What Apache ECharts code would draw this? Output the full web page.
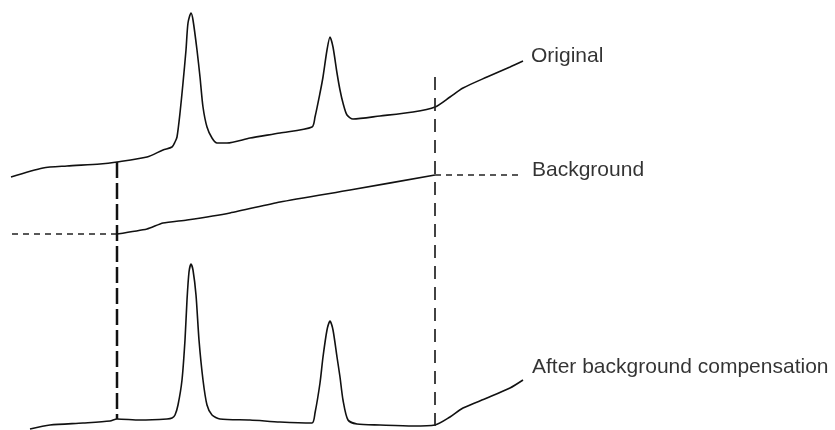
<!DOCTYPE html>
<html>
<head>
<meta charset="utf-8">
<script src="https://cdn.jsdelivr.net/npm/echarts@6/dist/echarts.min.js"></script>
<style>html,body{margin:0;padding:0;background:#fff;}#chart{width:835px;height:430px;}</style>
</head>
<body>
<div id="chart"></div>
<script>
// Original signal
var origX = [11,43,67,100,117,147,163,172,175,177,180,183,186,188,191,193,197,200,203,207,212,217,227,250,280,312,315,320,323,327,330,333,337,340,343,347,353,380,413,435,450,463,487,510,523];
var origY = [253,262,264,266,268,273,280,283,288,293,317,347,380,407,417,410,380,353,323,303,292,287,287,292,297,303,313,337,353,380,393,383,357,340,327,315,311,314,318,323,333,342,353,363,369];
// Estimated background
var bgX = [117,147,163,187,230,280,350,435];
var bgY = [196,201,207,210,217,228,240,255];
// After background compensation
var corrX = [30,50,83,110,117,140,167,172,175,178,182,185,187,189,191,193,196,199,203,207,212,220,250,280,312,315,320,323,327,330,333,337,340,343,348,357,380,413,435,450,463,487,510,523];
var corrY = [1,5,7,9,11,10,11,12,15,25,50,90,130,158,166,160,135,90,50,25,15,11,10,8,7,17,47,73,100,109,100,73,53,30,10,6,5,4,5,13,22,32,42,50];
// Region markers (start / end of peak window)
var markerX = [117, 435];
var markerTop = [268, 353];
var markerBottom = [11, 3];
// Background level extensions
var bgLeftX = [12, 117];
var bgRightX = [435, 522];
// Labels
var labelNames = ['Original', 'Background', 'After background compensation'];

function zip(xs, ys) { return xs.map(function (x, i) { return [x, ys[i]]; }); }

var ink = '#111';
var chart = echarts.init(document.getElementById('chart'), null, {renderer: 'canvas'});
var curveStyle = {color: ink, width: 1.6};

var series = [
  {type: 'line', name: 'Original', data: zip(origX, origY), smooth: 0.25, showSymbol: false, lineStyle: curveStyle},
  {type: 'line', name: 'Background', data: zip(bgX, bgY), smooth: 0.2, showSymbol: false, lineStyle: curveStyle},
  {type: 'line', name: 'Corrected', data: zip(corrX, corrY), smooth: 0.25, showSymbol: false, lineStyle: curveStyle},
  {type: 'line', data: [[bgLeftX[0], bgY[0]], [bgLeftX[1], bgY[0]]], showSymbol: false,
    lineStyle: {color: '#222', width: 1.3, type: [6, 5]}},
  {type: 'line', data: [[bgRightX[0], bgY[bgY.length - 1]], [bgRightX[1], bgY[bgY.length - 1]]], showSymbol: false,
    lineStyle: {color: '#222', width: 1.3, type: [6, 5]}},
  {type: 'line', data: [[markerX[0], markerTop[0]], [markerX[0], markerBottom[0]]], showSymbol: false,
    lineStyle: {color: ink, width: 2.5, type: [16, 5]}},
  {type: 'line', data: [[markerX[1], markerTop[1]], [markerX[1], markerBottom[1]]], showSymbol: false,
    lineStyle: {color: '#222', width: 1.7, type: [13, 8]}},
  {type: 'scatter', symbolSize: 0, silent: true,
    data: [
      {value: [origX[origX.length - 1], origY[origY.length - 1]], name: labelNames[0], label: {offset: [8, -4.5]}},
      {value: [bgRightX[1], bgY[bgY.length - 1]], name: labelNames[1], label: {offset: [10, -5]}},
      {value: [corrX[corrX.length - 1], corrY[corrY.length - 1]], name: labelNames[2], label: {offset: [9, -12.5]}}
    ],
    label: {show: true, position: 'right', distance: 0, formatter: '{b}', color: '#000',
      fontFamily: '"Liberation Sans", Arial, sans-serif', fontSize: 21}}
];

chart.setOption({
  animation: false,
  backgroundColor: '#fff',
  grid: {left: 0, right: 0, top: 0, bottom: 0, containLabel: false},
  xAxis: {type: 'value', min: 0, max: 835, show: false},
  yAxis: {type: 'value', min: 0, max: 430, show: false},
  series: series
});
</script>
</body>
</html>
